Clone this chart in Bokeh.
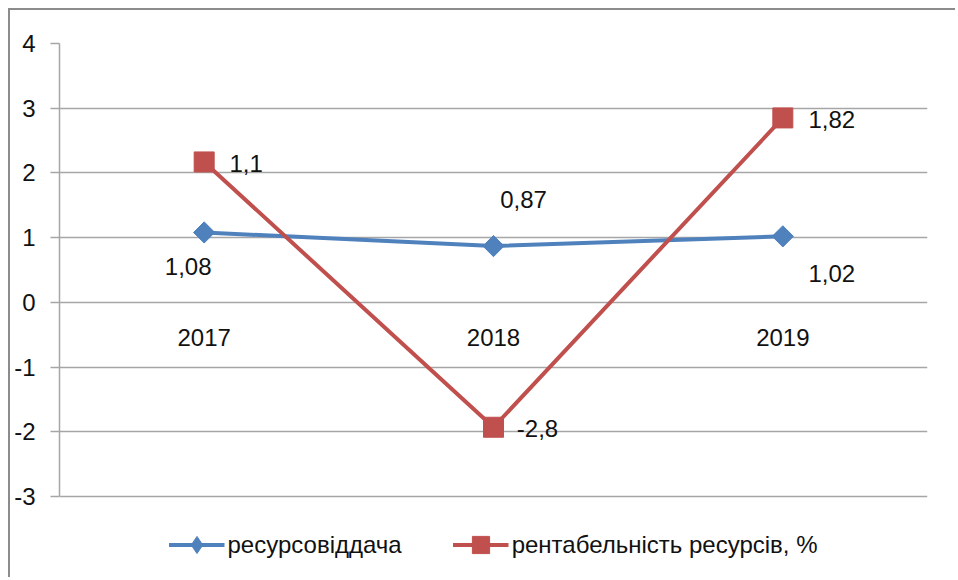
import numpy as np
from bokeh.plotting import figure
from bokeh.models import FixedTicker, Legend, LegendItem, Range1d, FactorRange
from bokeh.core.properties import value
from bokeh.embed import file_html
from bokeh.resources import INLINE

# ---- data ----
years = ["2017", "2018", "2019"]
resource_return = [1.08, 0.87, 1.02]
resource_return_labels = ["1,08", "0,87", "1,02"]
profitability = [2.17, -1.93, 2.85]
profitability_labels = ["1,1", "-2,8", "1,82"]
y_ticks = [-3, -2, -1, 0, 1, 2, 3, 4]
series_names = ["ресурсовіддача", "рентабельність ресурсів, %"]

# ---- style ----
BLUE = "#4F81BD"
RED = "#C0504D"
GRID = "#A6A6A6"
TXT = "#111111"
FONT = "Liberation Sans"
FS = "24px"

px_per_unit = (496 - 43) / 7.0
y_bottom = -3 - 83 / px_per_unit

p = figure(width=947, height=569,
           x_range=FactorRange(factors=years, range_padding=0),
           y_range=Range1d(y_bottom, 4),
           output_backend="svg", toolbar_location=None,
           min_border_left=49, min_border_right=30,
           min_border_top=33, min_border_bottom=0)
p.styles = {"margin-left": "8px", "margin-top": "8px",
            "border-left": "2px solid #8C8C8C", "border-top": "2px solid #8C8C8C"}
p.outline_line_color = None
p.background_fill_color = "white"
p.border_fill_color = "white"

p.xaxis.visible = False
p.xgrid.visible = False

ya = p.yaxis[0]
ya.ticker = FixedTicker(ticks=y_ticks)
ya.bounds = (-3, 4)
ya.major_label_overrides = {t: str(t) for t in y_ticks}
ya.axis_line_color = GRID
ya.axis_line_width = 1.5
ya.major_tick_line_color = GRID
ya.major_tick_line_width = 1.5
ya.major_tick_out = 9
ya.major_tick_in = 0
ya.minor_tick_line_color = None
ya.major_label_standoff = 15
ya.major_label_text_font = FONT
ya.major_label_text_font_size = FS
ya.major_label_text_color = TXT

p.ygrid.ticker = FixedTicker(ticks=y_ticks)
p.ygrid.grid_line_color = GRID
p.ygrid.grid_line_width = 1.5

# category labels near zero line
p.text(x=years, y=[0] * len(years), text=years, y_offset=35,
       text_align="center", text_baseline="middle",
       text_font=value(FONT), text_font_size=FS, text_color=TXT)

bl = p.line(years, resource_return, line_color=BLUE, line_width=4)
rl = p.line(years, profitability, line_color=RED, line_width=4)
bs = p.scatter(years, resource_return, marker="square", angle=np.pi / 4,
               size=15, fill_color=BLUE, line_color=BLUE)
rs = p.scatter(years, profitability, marker="square", size=20,
               fill_color=RED, line_color=RED)
# legend-only diamond (not drawn in plot)
bleg = p.scatter(years, resource_return, marker="diamond", size=20,
                 fill_color=BLUE, line_color=BLUE, visible=False)

# data labels
blue_dx = [-16, 30, 49]
blue_dy = [34, -47, 37]
red_dx = [42, 44, 49]
red_dy = [2, 1, 2]
p.text(x=years, y=resource_return, text=resource_return_labels,
       x_offset=blue_dx, y_offset=blue_dy,
       text_align="center", text_baseline="middle",
       text_font=value(FONT), text_font_size=FS, text_color=TXT)
p.text(x=years, y=profitability, text=profitability_labels,
       x_offset=red_dx, y_offset=red_dy,
       text_align="center", text_baseline="middle",
       text_font=value(FONT), text_font_size=FS, text_color=TXT)

legend = Legend(items=[LegendItem(label=series_names[0], renderers=[bl, bleg]),
                       LegendItem(label=series_names[1], renderers=[rl, rs])],
                orientation="horizontal", location="bottom_center",
                margin=13, padding=0, spacing=51,
                glyph_width=56, glyph_height=43, label_standoff=3,
                label_text_font=FONT, label_text_font_size=FS,
                label_text_color=TXT,
                border_line_color=None, background_fill_alpha=0)
p.add_layout(legend)

open("out.html", "w").write(file_html(p, INLINE))
